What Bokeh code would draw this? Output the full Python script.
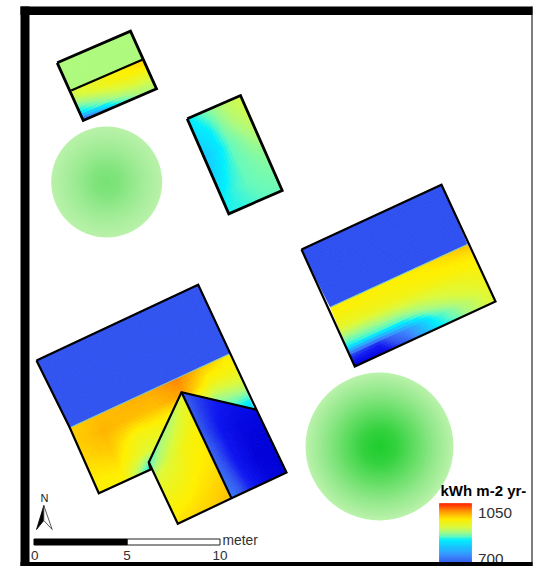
import numpy as np
from bokeh.embed import file_html
from bokeh.models import ColumnDataSource, LinearColorMapper
from bokeh.plotting import figure
from bokeh.resources import INLINE
from bokeh.core.properties import value

# ---- colour scale of the solar irradiation map (kWh m-2 yr-1) ----
scale_values = [640, 670, 700, 745, 790, 838, 860, 884, 915, 958, 1007, 1050]
scale_red    = [0, 15, 50, 60, 30, 0, 100, 170, 220, 255, 255, 255]
scale_green  = [0, 20, 85, 140, 190, 240, 250, 250, 250, 240, 150, 40]
scale_blue   = [215, 240, 240, 255, 255, 255, 190, 130, 60, 0, 0, 0]
legend_title = "kWh m-2 yr-"
legend_labels = ["1050", "700"]
legend_top_value = 1050
legend_values_per_unit = 350 / 60

# ---- map geometry, in picture units (18.6 units = 1 metre) ----
units_per_metre = 18.6
scale_ticks = [0, 5, 10]
scale_unit = "meter"

small_upper_corners = [(56.7, 62.3), (130, 30.7), (141.7, 59.3), (70.7, 90)]
small_upper_values = [[886, 886], [886, 886]]
small_lower_corners = [(70.7, 90), (141.7, 59.3), (156, 88.3), (82.7, 120)]
small_lower_values = [
    [915, 930, 945, 960, 975],
    [900, 925, 945, 955, 960],
    [870, 890, 915, 930, 930],
    [830, 860, 885, 900, 905],
    [700, 760, 840, 880, 890],
]
middle_corners = [(186.7, 118.3), (240, 95), (281.7, 190), (228.3, 213.3)]
middle_values = [
    [830, 860, 880, 900, 910],
    [820, 835, 870, 890, 905],
    [800, 825, 860, 875, 890],
    [805, 840, 860, 868, 875],
    [835, 850, 860, 865, 868],
    [845, 848, 855, 860, 862],
]
right_upper_corners = [(301, 249), (441, 184.3), (466.7, 244), (330, 306.7)]
right_upper_values = [[698, 698], [698, 698]]
right_lower_corners = [(330, 306.7), (466.7, 244), (495, 301), (354.3, 366)]
right_lower_values = [
    [960, 958, 958, 960, 970, 985],
    [950, 950, 950, 955, 960, 965],
    [930, 935, 940, 945, 950, 955],
    [885, 890, 900, 915, 930, 945],
    [840, 850, 855, 885, 915, 935],
    [690, 680, 745, 845, 890, 925],
    [645, 650, 720, 830, 880, 925],
]
large_upper_corners = [(36, 360), (197.7, 284.3), (229.3, 353.3), (69.3, 427.3)]
large_upper_values = [[700, 700], [700, 700]]
large_lower_corners = [(69.3, 427.3), (229.3, 353.3), (258, 419), (98.3, 492.7)]
large_lower_values = [
    [975, 985, 990, 995, 1015, 980, 960],
    [975, 990, 985, 985, 1000, 945, 945],
    [970, 980, 945, 950, 920, 880, 900],
    [960, 965, 925, 915, 900, 850, 830],
    [955, 950, 830, 880, 860, 800, 780],
]
dormer_left_corners = [(181, 391.7), (231, 497.7), (177.3, 523.3), (148.3, 461.7)]
dormer_left_values = [
    [925, 955, 965, 985],
    [890, 945, 960, 975],
    [880, 925, 950, 970],
    [850, 925, 945, 965],
]
dormer_right_corners = [(181, 391.7), (256, 409.3), (286, 472), (231, 497.7)]
dormer_right_values = [
    [705, 680, 665, 655],
    [705, 670, 650, 645],
    [715, 670, 645, 640],
    [735, 680, 650, 640],
]

# ---- tree canopies: centre, radius, shade against relative radius ----
tree_centres = [(106.2, 181.5), (379, 446)]
tree_radii = [55.5, 74]
tree_profile_r = [0, 0.25, 0.5, 0.75, 1]
tree_shades = [[0.42, 0.36, 0.22, 0.10, 0.0], [1.0, 0.85, 0.55, 0.25, 0.0]]
tree_colour_light = (185, 242, 170)
tree_colour_dark = (30, 205, 45)

palette_pos = np.linspace(scale_values[0], scale_values[-1], 256)
palette = ["#%02x%02x%02x" % (int(r), int(g), int(b)) for r, g, b in zip(
    np.interp(palette_pos, scale_values, scale_red),
    np.interp(palette_pos, scale_values, scale_green),
    np.interp(palette_pos, scale_values, scale_blue))]
mapper = LinearColorMapper(palette=palette, low=scale_values[0], high=scale_values[-1])

p = figure(width=533, height=566, x_range=(0, 533), y_range=(566, 0),
           x_axis_type=None, y_axis_type=None, toolbar_location=None,
           output_backend="svg", min_border=0, outline_line_color=None,
           background_fill_color="white", border_fill_color="white")
p.grid.visible = False


def shade_facet(corners, grid, cell=3.0):
    """Shade a roof facet: the grid readings are drawn as fine smooth cells."""
    a, b, c, d = [np.array(k, dtype=float) for k in corners]
    grid = np.array(grid, dtype=float)
    nu = max(2, int(max(np.linalg.norm(b - a), np.linalg.norm(c - d)) / cell))
    nv = max(2, int(max(np.linalg.norm(d - a), np.linalg.norm(c - b)) / cell))
    us = np.linspace(0, 1, nu + 1)
    vs = np.linspace(0, 1, nv + 1)

    def pt(u, v):
        return (1 - u) * (1 - v) * a + u * (1 - v) * b + u * v * c + (1 - u) * v * d

    def val(u, v):
        gu = u * (grid.shape[1] - 1)
        gv = v * (grid.shape[0] - 1)
        i = min(int(gu), grid.shape[1] - 2)
        j = min(int(gv), grid.shape[0] - 2)
        fu, fv = gu - i, gv - j
        return ((1 - fu) * (1 - fv) * grid[j, i] + fu * (1 - fv) * grid[j, i + 1]
                + fu * fv * grid[j + 1, i + 1] + (1 - fu) * fv * grid[j + 1, i])

    xs, ys, vals = [], [], []
    for i in range(nu):
        for j in range(nv):
            q = [pt(us[i], vs[j]), pt(us[i + 1], vs[j]), pt(us[i + 1], vs[j + 1]), pt(us[i], vs[j + 1])]
            xs.append([k[0] for k in q])
            ys.append([k[1] for k in q])
            vals.append(val((us[i] + us[i + 1]) / 2, (vs[j] + vs[j + 1]) / 2))
    src = ColumnDataSource(dict(xs=xs, ys=ys, v=vals))
    spec = {"field": "v", "transform": mapper}
    p.patches("xs", "ys", source=src, fill_color=spec, line_color=spec, line_width=0.8)


# trees
for centre, radius, shades in zip(tree_centres, tree_radii, tree_shades):
    rel = np.linspace(1, 0.02, 45)
    t = np.interp(rel, tree_profile_r, shades)
    cols = ["#%02x%02x%02x" % tuple(int(l + (d - l) * k) for l, d in zip(tree_colour_light, tree_colour_dark)) for k in t]
    p.circle(x=[centre[0]] * len(rel), y=[centre[1]] * len(rel), radius=list(rel * radius),
             fill_color=cols, line_color=None)

# roof facets
for corners, grid in [
    (small_upper_corners, small_upper_values), (small_lower_corners, small_lower_values),
    (middle_corners, middle_values),
    (right_upper_corners, right_upper_values), (right_lower_corners, right_lower_values),
    (large_upper_corners, large_upper_values), (large_lower_corners, large_lower_values),
    (dormer_left_corners, dormer_left_values), (dormer_right_corners, dormer_right_values),
]:
    shade_facet(corners, grid)

# light seam along the two blue/yellow ridges
for c in (right_upper_corners, large_upper_corners):
    p.line([c[3][0], c[2][0]], [c[3][1], c[2][1]], line_color="#62c4ee", line_width=0.9)


def outline(points, width=2.4):
    xs = [k[0] for k in points]
    ys = [k[1] for k in points]
    p.line(xs, ys, line_color="black", line_width=width, line_join="miter")


# roof outlines
outline([small_upper_corners[0], small_upper_corners[1], small_lower_corners[2],
         small_lower_corners[3], small_upper_corners[0]], 2.8)
outline([small_upper_corners[3], small_upper_corners[2]], 2.2)
outline(middle_corners + middle_corners[:1], 2.8)
outline([right_upper_corners[0], right_upper_corners[1], right_lower_corners[2],
         right_lower_corners[3], right_upper_corners[0]], 2.2)
outline([large_upper_corners[0], large_upper_corners[1], dormer_right_corners[1],
         dormer_right_corners[2], dormer_right_corners[3], dormer_left_corners[2],
         dormer_left_corners[3], dormer_left_corners[0], dormer_right_corners[1]], 2.2)
outline([dormer_left_corners[0], dormer_left_corners[1]], 2.2)
outline([dormer_left_corners[3], (150, 469), large_lower_corners[3], large_upper_corners[3],
         large_upper_corners[0]], 2.2)

# legend
bar_levels = np.arange(640, 1050, 2.0)
bar_bottom = 503 + (legend_top_value - bar_levels) / legend_values_per_unit
bar_top = 503 + (legend_top_value - (bar_levels + 2.0)) / legend_values_per_unit
src_bar = ColumnDataSource(dict(v=bar_levels, t=bar_top, b=bar_bottom))
spec_bar = {"field": "v", "transform": mapper}
p.quad(left=439, right=471, top="t", bottom="b", source=src_bar,
       fill_color=spec_bar, line_color=spec_bar, line_width=0.4)


def label(x, y, text, size, color="#303030", style="normal", align="left"):
    p.text(x=[x], y=[y], text=[text], text_font=value("Liberation Sans"),
           text_font_size=size, text_font_style=style, text_color=color,
           text_baseline="middle", text_align=align)


label(440, 490, legend_title, "15px", "black", "bold")
label(477.5, 512, legend_labels[0], "15.3px")
label(477.5, 558, legend_labels[1], "15.3px")

# scale bar
x0 = 33.5
xs_scale = [x0 + t * units_per_metre for t in scale_ticks]
p.quad(left=[xs_scale[1]], right=[xs_scale[2]], top=[538.5], bottom=[544.5], fill_color="white", line_color="#202020", line_width=1)
p.quad(left=[xs_scale[0]], right=[xs_scale[1]], top=[538.5], bottom=[544.5], fill_color="black", line_color="black", line_width=1)
label(222, 540, scale_unit, "13.8px")
for t, x in zip(scale_ticks, xs_scale):
    if t == 0:
        label(x - 3, 555, str(t), "13.5px")
    else:
        label(x, 555, str(t), "13.5px", align="center")

# north arrow
p.patch([43.3, 36, 43.3], [505, 529, 520], fill_color="black", line_color="black", line_width=0.8)
p.patch([43.3, 51.7, 43.3], [505, 529, 520], fill_color="white", line_color="#303030", line_width=0.8)
label(44, 497, "N", "11px", "#202020", "normal", "center")

# map frame
p.quad(left=[20, 20, 20, 531], right=[29, 532, 532, 532], top=[6, 6, 561.5, 6], bottom=[566, 14.5, 566, 566],
       fill_color="black", line_color=None)

open("out.html", "w").write(file_html(p, INLINE))
